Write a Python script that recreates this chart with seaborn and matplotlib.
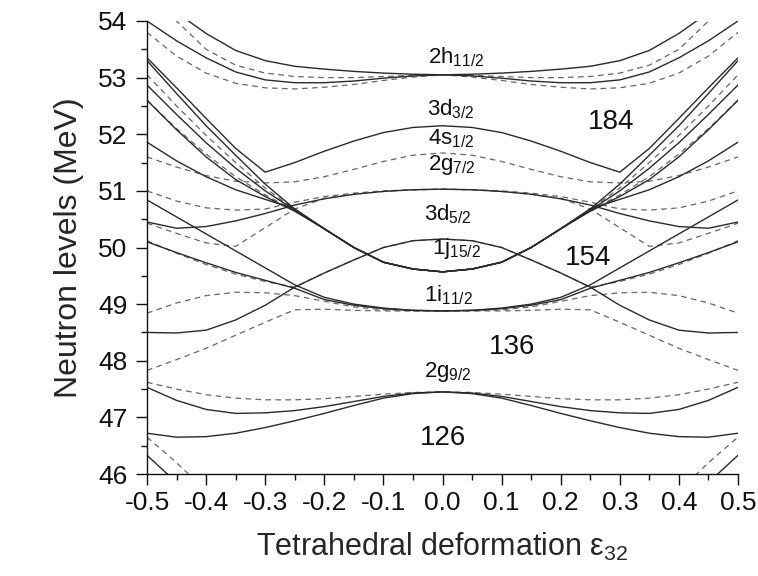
import numpy as np
import pandas as pd
import matplotlib
matplotlib.use("Agg")
import matplotlib.pyplot as plt
import seaborn as sns
from matplotlib.ticker import MultipleLocator

# deformation grid for the right half; the diagram is symmetric in eps32
eps_half = [0.0, 0.05, 0.10, 0.15, 0.20, 0.25, 0.30, 0.35, 0.40, 0.45, 0.50]

# neutron levels (MeV) at eps_half
h11_s1 = [53.05, 53.06, 53.08, 53.11, 53.15, 53.20, 53.30, 53.48, 53.78, 54.15, 54.55]
h11_s2 = [53.05, 53.03, 52.99, 52.94, 52.91, 52.91, 52.96, 53.10, 53.35, 53.65, 54.00]
h11_d1 = [53.05, 53.04, 53.02, 53.00, 53.00, 53.02, 53.08, 53.22, 53.50, 54.00, 54.50]
h11_d2 = [53.05, 53.01, 52.95, 52.88, 52.83, 52.80, 52.82, 52.90, 53.08, 53.38, 53.80]

d32_s = [52.15, 52.12, 52.03, 51.88, 51.70, 51.50, 51.33, 51.75, 52.28, 52.82, 53.35]
s12_d = [51.67, 51.63, 51.52, 51.38, 51.25, 51.16, 51.14, 51.17, 51.27, 51.42, 51.60]

j15_s1 = [49.57, 49.62, 49.74, 50.00, 50.33, 50.68, 51.12, 51.63, 52.15, 52.72, 53.30]
j15_d1 = [49.57, 49.62, 49.74, 50.00, 50.33, 50.67, 51.05, 51.50, 51.98, 52.50, 53.05]
j15_s2 = [49.57, 49.62, 49.74, 50.00, 50.33, 50.66, 51.00, 51.40, 51.85, 52.35, 52.87]
j15_d2 = [49.57, 49.62, 49.74, 50.00, 50.33, 50.65, 50.93, 51.25, 51.65, 52.10, 52.60]
j15_s3 = [49.57, 49.62, 49.74, 50.00, 50.33, 50.64, 50.90, 51.20, 51.60, 52.08, 52.60]
j15_s4 = [49.57, 49.62, 49.74, 50.00, 50.33, 50.68, 50.85, 51.02, 51.25, 51.53, 51.86]

g7_d1 = [51.03, 51.02, 51.00, 50.96, 50.90, 50.80, 50.68, 50.66, 50.70, 50.82, 51.00]
g7_s = [51.03, 51.02, 50.99, 50.94, 50.86, 50.75, 50.60, 50.47, 50.37, 50.34, 50.45]
g7_d2 = [51.03, 51.02, 50.99, 50.94, 50.87, 50.68, 50.35, 50.02, 50.08, 50.25, 50.43]

d52_s = [50.15, 50.12, 50.00, 49.78, 49.55, 49.30, 48.98, 48.72, 48.54, 48.49, 48.50]
d52_d = [50.15, 50.12, 50.00, 49.78, 49.55, 49.30, 49.40, 49.53, 49.70, 49.90, 50.12]

i11_s1 = [48.88, 48.89, 48.93, 49.00, 49.12, 49.34, 49.64, 49.94, 50.24, 50.54, 50.84]
i11_s2 = [48.88, 48.89, 48.92, 48.98, 49.08, 49.28, 49.42, 49.56, 49.73, 49.91, 50.10]
i11_d1 = [48.88, 48.88, 48.90, 48.95, 49.05, 49.15, 49.20, 49.21, 49.15, 49.02, 48.84]
i11_d2 = [48.88, 48.88, 48.88, 48.89, 48.91, 48.90, 48.68, 48.45, 48.22, 48.02, 47.83]

g9_d = [47.45, 47.44, 47.41, 47.37, 47.33, 47.31, 47.31, 47.34, 47.40, 47.50, 47.62]
g9_s1 = [47.45, 47.43, 47.37, 47.28, 47.19, 47.12, 47.08, 47.07, 47.14, 47.30, 47.53]
g9_s2 = [47.45, 47.42, 47.34, 47.21, 47.07, 46.94, 46.82, 46.72, 46.66, 46.65, 46.72]

low_d = [43.50, 43.55, 43.70, 43.90, 44.20, 44.55, 44.90, 45.25, 45.70, 46.20, 46.65]
low_s = [43.30, 43.35, 43.50, 43.70, 44.00, 44.30, 44.65, 45.00, 45.40, 45.85, 46.33]

levels = [
    ("h11_s1", h11_s1, "solid"), ("h11_s2", h11_s2, "solid"),
    ("h11_d1", h11_d1, "dashed"), ("h11_d2", h11_d2, "dashed"),
    ("d32_s", d32_s, "solid"), ("s12_d", s12_d, "dashed"),
    ("j15_s1", j15_s1, "solid"), ("j15_d1", j15_d1, "dashed"),
    ("j15_s2", j15_s2, "solid"), ("j15_d2", j15_d2, "dashed"),
    ("j15_s3", j15_s3, "solid"), ("j15_s4", j15_s4, "solid"),
    ("g7_d1", g7_d1, "dashed"), ("g7_s", g7_s, "solid"), ("g7_d2", g7_d2, "dashed"),
    ("d52_s", d52_s, "solid"), ("d52_d", d52_d, "dashed"),
    ("i11_s1", i11_s1, "solid"), ("i11_s2", i11_s2, "solid"),
    ("i11_d1", i11_d1, "dashed"), ("i11_d2", i11_d2, "dashed"),
    ("g9_d", g9_d, "dashed"), ("g9_s1", g9_s1, "solid"), ("g9_s2", g9_s2, "solid"),
    ("low_d", low_d, "dashed"), ("low_s", low_s, "solid"),
]

xtick_vals = [-0.5, -0.4, -0.3, -0.2, -0.1, 0.0, 0.1, 0.2, 0.3, 0.4, 0.5]

rows = []
for name, vals, style in levels:
    xs = [-e for e in eps_half[::-1]] + eps_half[1:]
    ys = vals[::-1] + vals[1:]
    for x, y in zip(xs, ys):
        rows.append({"eps": x, "E": y, "level": name, "style": style})
df = pd.DataFrame(rows)

sns.set_theme(style="ticks")
plt.rcParams["font.family"] = ["Liberation Sans", "DejaVu Sans"]
plt.rcParams["mathtext.default"] = "regular"
plt.rcParams["lines.dashed_pattern"] = [4.5, 3.5]

fig = plt.figure(figsize=(7.58, 5.76), dpi=100)
ax = fig.add_axes([147 / 758, 1 - 474 / 576, 591 / 758, 453 / 576])

for style in ["dashed", "solid"]:
    for name in df.loc[df["style"] == style, "level"].unique():
        sub = df[df["level"] == name]
        if style == "solid":
            sns.lineplot(data=sub, x="eps", y="E", ax=ax, sort=False, estimator=None,
                         color="#2a2a2a", lw=1.0, legend=False)
        else:
            sns.lineplot(data=sub, x="eps", y="E", ax=ax, sort=False, estimator=None,
                         color="#666666", lw=0.9, linestyle="--", legend=False)

ax.set_xlim(-0.5, 0.5)
ax.set_ylim(46, 54)
ax.xaxis.set_minor_locator(MultipleLocator(0.05))
ax.yaxis.set_major_locator(MultipleLocator(1))
ax.yaxis.set_minor_locator(MultipleLocator(0.5))
ax.set_xticks(xtick_vals)
ax.set_xticklabels([f"{v + 0:.1f}" for v in xtick_vals])
ax.tick_params(which="major", direction="out", length=8, width=1, labelsize=19, colors="#111111")
ax.tick_params(which="minor", direction="out", length=4.5, width=1, colors="#111111")
ax.tick_params(axis="y", pad=6)
ax.tick_params(axis="x", pad=4)
sns.despine(ax=ax)
for sp in ["left", "bottom"]:
    ax.spines[sp].set_linewidth(1.0)
    ax.spines[sp].set_color("#111111")

ax.set_xlabel(r"Tetrahedral deformation $\epsilon_{32}$", fontsize=22, labelpad=12)
ax.set_ylabel("Neutron levels (MeV)", fontsize=23, labelpad=10)

labels = [
    (-0.024, 53.26, r"2h$_{11/2}$"),
    (-0.026, 52.34, r"3d$_{3/2}$"),
    (-0.024, 51.82, r"4s$_{1/2}$"),
    (-0.024, 51.36, r"2g$_{7/2}$"),
    (-0.032, 50.48, r"3d$_{5/2}$"),
    (-0.017, 49.88, r"1j$_{15/2}$"),
    (-0.032, 49.04, r"1i$_{11/2}$"),
    (-0.032, 47.72, r"2g$_{9/2}$"),
]
for x, y, t in labels:
    ax.text(x, y, t, fontsize=16, ha="left", va="baseline", color="#111111")

magic = [(0.286, 52.22, "184"), (0.247, 49.81, "154"), (0.117, 48.24, "136"), (0.0, 46.63, "126")]
for x, y, t in magic:
    ax.text(x, y, t, fontsize=20, ha="center", va="center", color="#111111")

fig.savefig("out.png", dpi=100)
